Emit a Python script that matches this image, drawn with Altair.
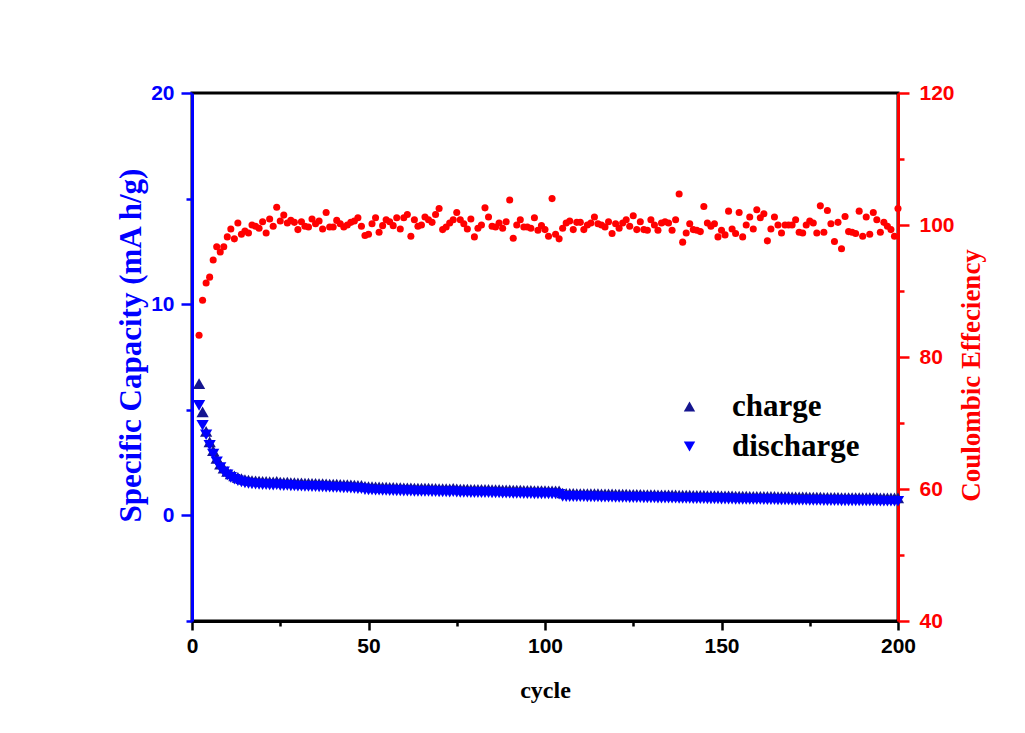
import altair as alt
import pandas as pd

# ---- data ----
cycles = list(range(2, 201))

charge = [
    6.24, 4.90, 3.98, 3.48, 3.06, 2.70, 2.43, 2.23, 2.08,
    1.96, 1.87, 1.80, 1.74, 1.70, 1.67, 1.65, 1.64, 1.63, 1.61,
    1.61, 1.60, 1.59, 1.61, 1.58, 1.57, 1.58, 1.56, 1.55, 1.54,
    1.54, 1.53, 1.53, 1.52, 1.52, 1.51, 1.51, 1.50, 1.49, 1.48,
    1.48, 1.47, 1.46, 1.46, 1.45, 1.44, 1.43, 1.42, 1.38, 1.36,
    1.36, 1.35, 1.35, 1.34, 1.34, 1.33, 1.33, 1.32, 1.32, 1.31,
    1.31, 1.31, 1.30, 1.30, 1.29, 1.29, 1.29, 1.28, 1.28, 1.27,
    1.27, 1.27, 1.26, 1.28, 1.26, 1.25, 1.25, 1.25, 1.24, 1.24,
    1.24, 1.23, 1.23, 1.23, 1.22, 1.22, 1.22, 1.21, 1.21, 1.21,
    1.20, 1.20, 1.20, 1.19, 1.19, 1.19, 1.18, 1.18, 1.18, 1.18,
    1.17, 1.17, 1.17, 1.16, 1.06, 1.05, 1.05, 1.05, 1.04, 1.04,
    1.04, 1.03, 1.03, 1.03, 1.03, 1.02, 1.02, 1.02, 1.02, 1.01,
    1.01, 1.01, 1.01, 1.00, 1.00, 1.00, 1.00, 0.99, 0.99, 0.99,
    0.99, 0.98, 0.98, 0.98, 0.98, 0.97, 0.97, 0.96, 0.96, 0.96,
    0.96, 0.95, 0.95, 0.95, 0.95, 0.94, 0.94, 0.94, 0.94, 0.93,
    0.93, 0.93, 0.93, 0.92, 0.92, 0.92, 0.92, 0.91, 0.91, 0.91,
    0.91, 0.90, 0.90, 0.90, 0.90, 0.89, 0.89, 0.89, 0.89, 0.88,
    0.88, 0.88, 0.88, 0.88, 0.87, 0.87, 0.87, 0.87, 0.86, 0.86,
    0.86, 0.86, 0.86, 0.85, 0.85, 0.85, 0.85, 0.85, 0.84, 0.84,
    0.84, 0.84, 0.84, 0.84, 0.83, 0.83, 0.83, 0.83, 0.83, 0.83,
]

discharge = [
    5.21, 4.27, 3.82, 3.32, 2.90, 2.54, 2.27, 2.07, 1.92,
    1.80, 1.71, 1.64, 1.58, 1.54, 1.51, 1.49, 1.48, 1.47, 1.45,
    1.45, 1.44, 1.43, 1.45, 1.42, 1.41, 1.42, 1.40, 1.39, 1.38,
    1.38, 1.37, 1.37, 1.36, 1.36, 1.35, 1.35, 1.34, 1.33, 1.32,
    1.32, 1.31, 1.30, 1.30, 1.29, 1.28, 1.27, 1.26, 1.22, 1.20,
    1.20, 1.19, 1.19, 1.18, 1.18, 1.17, 1.17, 1.16, 1.16, 1.15,
    1.15, 1.15, 1.14, 1.14, 1.13, 1.13, 1.13, 1.12, 1.12, 1.11,
    1.11, 1.11, 1.10, 1.12, 1.10, 1.09, 1.09, 1.09, 1.08, 1.08,
    1.08, 1.07, 1.07, 1.07, 1.06, 1.06, 1.06, 1.05, 1.05, 1.05,
    1.04, 1.04, 1.04, 1.03, 1.03, 1.03, 1.02, 1.02, 1.02, 1.02,
    1.01, 1.01, 1.01, 1.00, 0.90, 0.89, 0.89, 0.89, 0.88, 0.88,
    0.88, 0.87, 0.87, 0.87, 0.87, 0.86, 0.86, 0.86, 0.86, 0.85,
    0.85, 0.85, 0.85, 0.84, 0.84, 0.84, 0.84, 0.83, 0.83, 0.83,
    0.83, 0.82, 0.82, 0.82, 0.82, 0.81, 0.81, 0.80, 0.80, 0.80,
    0.80, 0.79, 0.79, 0.79, 0.79, 0.78, 0.78, 0.78, 0.78, 0.77,
    0.77, 0.77, 0.77, 0.76, 0.76, 0.76, 0.76, 0.75, 0.75, 0.75,
    0.75, 0.74, 0.74, 0.74, 0.74, 0.73, 0.73, 0.73, 0.73, 0.72,
    0.72, 0.72, 0.72, 0.72, 0.71, 0.71, 0.71, 0.71, 0.70, 0.70,
    0.70, 0.70, 0.70, 0.69, 0.69, 0.69, 0.69, 0.69, 0.68, 0.68,
    0.68, 0.68, 0.68, 0.68, 0.67, 0.67, 0.67, 0.67, 0.67, 0.67,
]

efficiency = [
    83.3, 88.6, 91.2, 92.1, 94.7, 96.7, 95.9, 96.7, 98.2,
    99.4, 97.9, 100.3, 98.6, 99.1, 98.8, 100.0, 99.8, 99.5, 100.5,
    98.8, 100.9, 99.8, 102.7, 100.6, 101.5, 100.3, 100.7, 100.4, 99.3,
    100.5, 99.8, 99.7, 100.9, 100.2, 100.6, 99.4, 101.9, 99.7, 99.7,
    100.7, 100.2, 99.7, 100.0, 100.4, 100.6, 101.1, 99.8, 98.4, 98.6,
    100.2, 101.1, 98.9, 99.9, 100.8, 100.5, 99.9, 101.1, 99.4, 101.1,
    101.6, 98.3, 100.8, 99.8, 100.0, 101.2, 100.8, 100.4, 101.6, 102.5,
    99.3, 99.7, 100.3, 100.8, 101.9, 100.8, 100.2, 99.4, 100.9, 98.2,
    99.5, 100.0, 102.6, 101.2, 99.8, 99.7, 100.3, 99.5, 100.5, 103.8,
    98.0, 100.0, 100.8, 99.7, 99.7, 99.5, 101.1, 99.2, 99.9, 99.3,
    98.3, 104.0, 98.6, 97.9, 99.5, 100.3, 100.6, 99.3, 100.4, 100.4,
    99.3, 100.0, 100.3, 101.2, 100.2, 100.0, 99.7, 100.5, 98.7, 100.2,
    99.5, 100.3, 100.8, 99.8, 101.4, 99.3, 100.5, 99.3, 99.2, 100.8,
    100.0, 99.2, 100.3, 100.5, 100.3, 99.2, 100.8, 104.7, 97.4, 98.8,
    100.2, 99.3, 99.2, 99.0, 102.8, 100.3, 99.8, 100.2, 98.2, 99.2,
    98.5, 102.1, 99.4, 98.7, 101.9, 98.2, 100.0, 101.2, 99.4, 102.3,
    101.1, 101.7, 97.6, 99.4, 101.2, 100.0, 98.8, 100.0, 100.0, 100.0,
    100.8, 98.9, 98.8, 100.0, 100.6, 100.3, 98.8, 102.9, 98.9, 102.2,
    100.2, 97.5, 100.4, 96.4, 101.3, 99.0, 98.9, 98.7, 102.1, 98.3,
    101.2, 98.6, 101.9, 100.8, 98.9, 100.4, 99.8, 99.3, 98.3, 102.5,
]

series_names = ["charge", "discharge"]
series_colors = ["#15158f", "#0000ff"]
series_shapes = ["triangle-up", "triangle-down"]

cap_df = pd.concat([
    pd.DataFrame({"cycle": cycles, "capacity": charge, "series": "charge"}),
    pd.DataFrame({"cycle": cycles, "capacity": discharge, "series": "discharge"}),
])
ce_df = pd.DataFrame({"cycle": cycles, "ce": efficiency})

W, H = 706, 528
SANS = "Liberation Sans"
SERIF = "Liberation Serif"
LABEL_SIZE = 21

x_enc = alt.X(
    "cycle:Q",
    scale=alt.Scale(domain=[0, 200], nice=False, zero=False),
    axis=alt.Axis(
        orient="bottom",
        values=list(range(0, 201, 25)),
        labelExpr="datum.value % 50 === 0 ? datum.label : ''",
        tickSize={"condition": {"test": "datum.value % 50 === 0", "value": 9}, "value": 5},
        title="cycle",
        titleFont=SERIF, titleFontSize=24, titleFontWeight="bold", titleColor="black",
        titleX=353, titleY=69, titleBaseline="middle", titleAlign="center",
        domainColor="black", domainWidth=3, tickColor="black", tickWidth=2.5,
        labelFont=SANS, labelFontSize=LABEL_SIZE, labelFontWeight="bold", labelColor="black",
        labelPadding=5, labelFlush=False, labelOverlap=False, labelBound=False,
        grid=False,
    ),
)

legend_kw = dict(
    title=None, orient="none", legendX=482, legendY=298,
    labelFont=SERIF, labelFontSize=31, labelFontWeight="bold", labelColor="black",
    symbolSize=130, symbolStrokeWidth=0, labelOffset=27, rowPadding=8, padding=0,
)

cap = alt.Chart(cap_df).mark_point(filled=True, size=150, opacity=1, strokeWidth=0).encode(
    x=x_enc,
    y=alt.Y(
        "capacity:Q",
        scale=alt.Scale(domain=[-5, 20], nice=False, zero=False),
        axis=alt.Axis(
            orient="left",
            values=[-5, 0, 5, 10, 15, 20],
            labelExpr="datum.value % 10 === 0 ? datum.label : ''",
            tickSize={"condition": {"test": "datum.value % 10 === 0", "value": 11}, "value": 6},
            title="Specific Capacity (mA h/g)",
            titleFont=SERIF, titleFontSize=31, titleFontWeight="bold", titleColor="#0000ff",
            titleAngle=270, titleX=-61, titleY=252, titleBaseline="middle", titleAlign="center",
            domainColor="#0000ff", domainWidth=3, tickColor="#0000ff", tickWidth=2.5,
            labelFont=SANS, labelFontSize=LABEL_SIZE, labelFontWeight="bold", labelColor="#0000ff",
            labelPadding=7, labelFlush=False, labelOverlap=False, labelBound=False,
            grid=False,
        ),
    ),
    color=alt.Color(
        "series:N",
        scale=alt.Scale(domain=series_names, range=series_colors),
        legend=alt.Legend(**legend_kw),
    ),
    shape=alt.Shape(
        "series:N",
        scale=alt.Scale(domain=series_names, range=series_shapes),
        legend=alt.Legend(**legend_kw),
    ),
    order=alt.Order("series:N"),
)

ce = alt.Chart(ce_df).mark_circle(size=50, color="#ff0000", opacity=1).encode(
    x=x_enc,
    y=alt.Y(
        "ce:Q",
        scale=alt.Scale(domain=[40, 120], nice=False, zero=False),
        axis=alt.Axis(
            orient="right",
            values=list(range(40, 121, 10)),
            labelExpr="datum.value % 20 === 0 ? datum.label : ''",
            tickSize={"condition": {"test": "datum.value % 20 === 0", "value": 11}, "value": 6},
            title="Coulombic Effeciency",
            titleFont=SERIF, titleFontSize=27, titleFontWeight="bold", titleColor="#ff0000",
            titleAngle=270, titleX=73, titleY=282, titleBaseline="middle", titleAlign="center",
            domainColor="#ff0000", domainWidth=3, tickColor="#ff0000", tickWidth=2.5,
            labelFont=SANS, labelFontSize=LABEL_SIZE, labelFontWeight="bold", labelColor="#ff0000",
            labelPadding=10, labelFlush=False, labelOverlap=False, labelBound=False,
            grid=False,
        ),
    ),
)

chart = (
    alt.layer(cap, ce)
    .resolve_scale(y="independent")
    .properties(
        width=W, height=H,
        padding={"left": 192, "top": 93, "right": 127, "bottom": 112},
        autosize=alt.AutoSizeParams(type="none"),
        background="white",
    )
    .configure_view(stroke="black", strokeWidth=3)
)

chart.save("out.html", embed_options={"renderer": "svg", "actions": False})
